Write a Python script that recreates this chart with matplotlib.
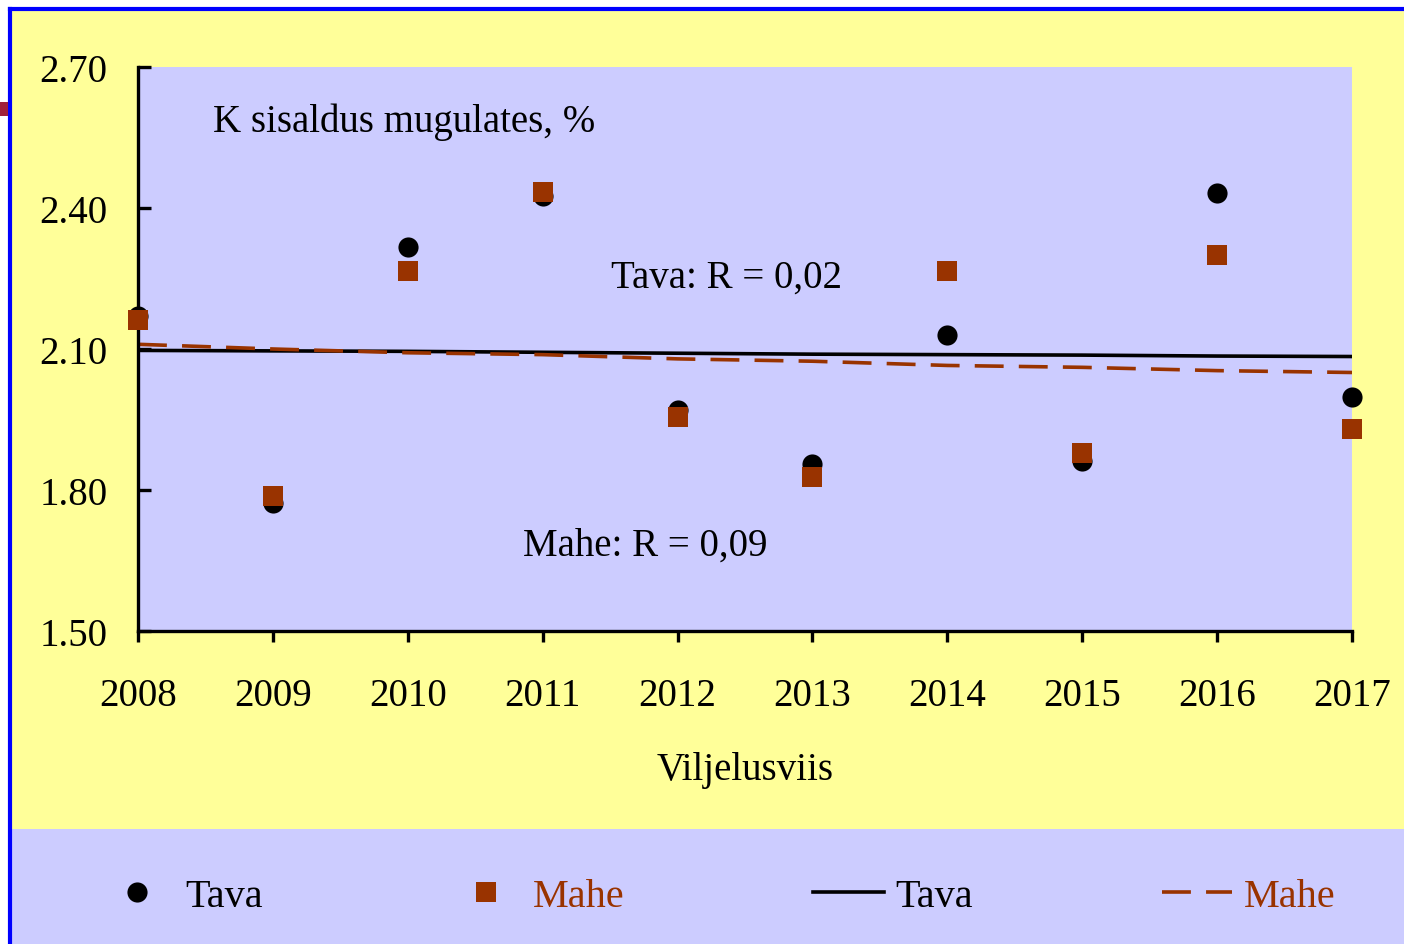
import matplotlib.pyplot as plt
from matplotlib.lines import Line2D
from matplotlib.patches import Rectangle

plt.rcParams["font.family"] = ["Liberation Serif", "DejaVu Serif"]
plt.rcParams["font.size"] = 28

W, H = 1404, 945

# Data
years = [2008, 2009, 2010, 2011, 2012, 2013, 2014, 2015, 2016, 2017]
tava = [2.17, 1.772, 2.317, 2.426, 1.970, 1.855, 2.130, 1.862, 2.432, 1.998]
mahe = [2.162, 1.787, 2.266, 2.434, 1.955, 1.828, 2.266, 1.879, 2.300, 1.930]
tava_trend = [2.097, 2.096, 2.095, 2.093, 2.091, 2.089, 2.088, 2.087, 2.085, 2.084]
mahe_trend = [2.110, 2.100, 2.092, 2.088, 2.079, 2.074, 2.065, 2.061, 2.054, 2.050]
y_ticks = [1.50, 1.80, 2.10, 2.40, 2.70]

YELLOW = "#FFFF99"
LAVENDER = "#CCCCFF"
BLUE = "#0000FF"
RED = "#993300"


def fx(px):
    return px / W


def fy(py):
    return 1 - py / H


fig = plt.figure(figsize=(W / 100, H / 100), dpi=100)
fig.patch.set_facecolor("white")

# background panels
fig.add_artist(Rectangle((fx(10), 0), 1 - fx(10), fy(10), transform=fig.transFigure,
                         facecolor=YELLOW, edgecolor="none", zorder=-3))
fig.add_artist(Rectangle((fx(10), 0), 1 - fx(10), fy(830), transform=fig.transFigure,
                         facecolor=LAVENDER, edgecolor="none", zorder=-2))
fig.add_artist(Line2D([fx(10), fx(10)], [0, fy(10)], transform=fig.transFigure,
                      color=BLUE, lw=3, zorder=-1))
fig.add_artist(Line2D([fx(10), 1], [fy(10), fy(10)], transform=fig.transFigure,
                      color=BLUE, lw=3, zorder=-1))
fig.add_artist(Rectangle((0, fy(117)), fx(8), fy(103) - fy(117), transform=fig.transFigure,
                         facecolor="#A0203A", edgecolor="none", zorder=-1))

ax = fig.add_axes([fx(138), fy(632), fx(1352) - fx(138), fy(68) - fy(632)])
ax.set_facecolor(LAVENDER)

ax.plot(years, tava_trend, color="black", lw=2.6, zorder=2)
ax.plot(years, mahe_trend, color=RED, lw=2.6, linestyle=(0, (8, 4.2)), zorder=2)
ax.plot(years, tava, linestyle="none", marker="o", ms=14.5, mew=0,
        color="black", clip_on=False, zorder=3)
ax.plot(years, mahe, linestyle="none", marker="s", ms=14.5, mew=0,
        color=RED, clip_on=False, zorder=4)

ax.set_xlim(years[0], years[-1])
ax.set_ylim(y_ticks[0], y_ticks[-1])
ax.set_xticks(years)
ax.set_xticklabels([str(y) for y in years])
ax.set_yticks(y_ticks)
ax.set_yticklabels([f"{v:.2f}" for v in y_ticks])

for side in ["top", "right"]:
    ax.spines[side].set_visible(False)
for side in ["left", "bottom"]:
    ax.spines[side].set_linewidth(2.4)
ax.tick_params(axis="x", direction="out", length=8, width=2.4, pad=25, labelsize=28)
ax.tick_params(axis="y", direction="in", length=9, width=2.4, pad=22, labelsize=28)

ax.set_xlabel("Viljelusviis", fontsize=28, labelpad=27)

ax.text(0.062, 0.904, "K sisaldus mugulates, %", transform=ax.transAxes,
        fontsize=28, va="center", ha="left")
ax.text(0.3896, 0.627, "Tava: R = 0,02", transform=ax.transAxes,
        fontsize=28, va="center", ha="left")
ax.text(0.317, 0.152, "Mahe: R = 0,09", transform=ax.transAxes,
        fontsize=28, va="center", ha="left")

handles = [
    Line2D([], [], linestyle="none", marker="o", ms=14.5, mew=0, color="black"),
    Line2D([], [], linestyle="none", marker="s", ms=14.5, mew=0, color=RED),
    Line2D([], [], color="black", lw=2.6),
    Line2D([], [], color=RED, lw=2.6, linestyle=(0, (8, 4.2))),
]
labels = ["Tava", "Mahe", "Tava", "Mahe"]
fig.legend(handles, labels, ncol=4, loc="center", mode="expand",
           bbox_to_anchor=(fx(66), fy(924), fx(1372) - fx(66), fy(870) - fy(924)),
           frameon=False, fontsize=29, handlelength=1.75, handletextpad=0.3,
           labelcolor=["black", RED, "black", RED])

fig.savefig("out.png", dpi=100)
